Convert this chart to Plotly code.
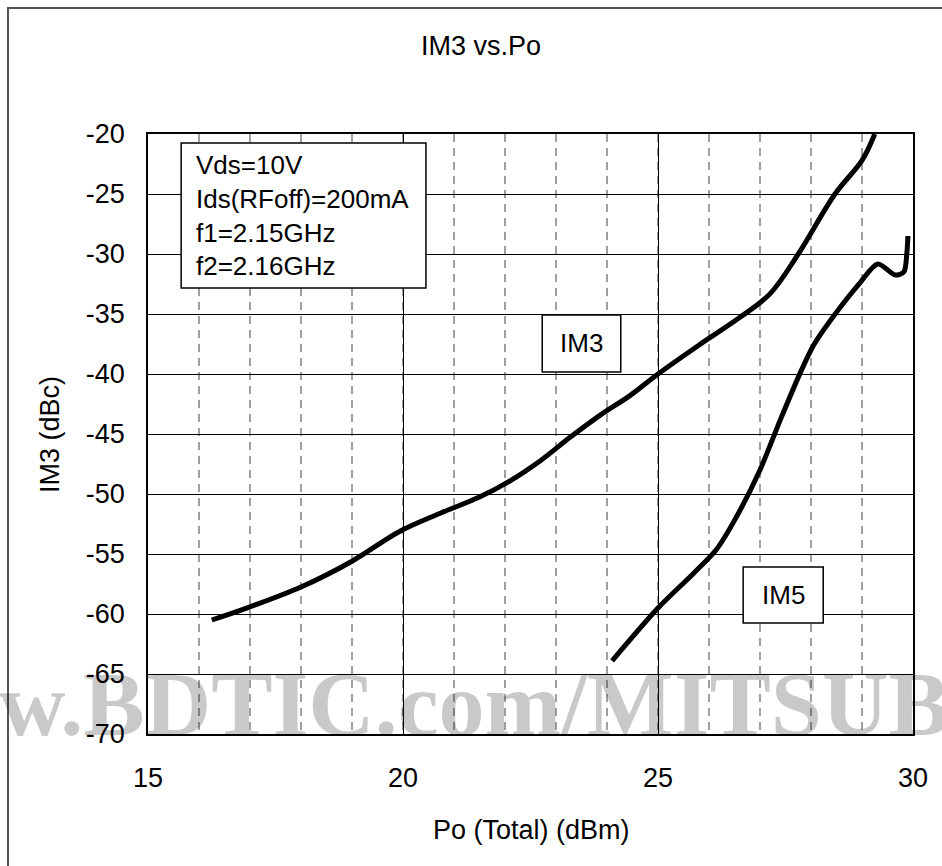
import plotly.graph_objects as go

# ---- data ----
im3_x = [16.25, 17.0, 18.0, 19.0, 19.94, 20.73, 21.5, 22.1, 22.7, 23.27, 23.86, 24.45,
         25.0, 25.8, 26.6, 27.2, 27.75, 28.47, 29.0, 29.25]
im3_y = [-60.5, -59.4, -57.75, -55.6, -53.1, -51.6, -50.25, -48.9, -47.2, -45.3, -43.45, -41.8,
         -40.0, -37.6, -35.3, -33.3, -30.0, -25.0, -22.2, -20.0]

im5_x = [24.1, 25.0, 25.7, 26.15, 26.5, 27.0, 27.4, 27.8, 28.05, 28.43, 28.96, 29.31,
         29.65, 29.82, 29.88, 29.9]
im5_y = [-63.9, -59.5, -56.6, -54.6, -52.2, -48.0, -43.8, -39.8, -37.6, -35.25, -32.4, -30.83,
         -31.75, -31.5, -29.9, -28.5]

x_ticks = [15, 20, 25, 30]
x_ticklabels = ["15", "20", "25", "30"]
y_ticks = [-20, -25, -30, -35, -40, -45, -50, -55, -60, -65, -70]
y_ticklabels = ["-20", "-25", "-30", "-35", "-40", "-45", "-50", "-55", "-60", "-65", "-70"]

title_text = "IM3 vs.Po"
x_title = "Po (Total) (dBm)"
y_title = "IM3 (dBc)"
info_lines = ["Vds=10V", "Ids(RFoff)=200mA", "f1=2.15GHz", "f2=2.16GHz"]
watermark = "w.BDTIC.com/MITSUB"

FONT = "Arial, Liberation Sans, sans-serif"
W, H = 942, 866
ML, MR, MT, MB = 148, 29, 134, 132
PW, PH = W - ML - MR, H - MT - MB


def px(xp):
    return (xp - ML) / PW


def py(yp):
    return (H - MB - yp) / PH


fig = go.Figure()
fig.add_trace(go.Scatter(x=im3_x, y=im3_y, mode="lines",
                         line=dict(color="black", width=5, shape="spline", smoothing=1.0),
                         showlegend=False, hoverinfo="skip"))
fig.add_trace(go.Scatter(x=im5_x, y=im5_y, mode="lines",
                         line=dict(color="black", width=5, shape="spline", smoothing=0.8),
                         showlegend=False, hoverinfo="skip"))

shapes = [
    # outer frame
    dict(type="rect", xref="paper", yref="paper", x0=px(8), x1=px(1000), y0=py(1000), y1=py(8),
         line=dict(color="#555555", width=2), fillcolor="rgba(0,0,0,0)", layer="below"),
    # info box
    dict(type="rect", xref="x", yref="y", x0=15.65, x1=20.45, y0=-32.83, y1=-20.75,
         line=dict(color="black", width=1.5), fillcolor="white", layer="above"),
    # IM3 label box
    dict(type="rect", xref="x", yref="y", x0=22.73, x1=24.27, y0=-39.83, y1=-35.08,
         line=dict(color="black", width=1.5), fillcolor="white", layer="above"),
    # IM5 label box
    dict(type="rect", xref="x", yref="y", x0=26.67, x1=28.24, y0=-60.75, y1=-56.08,
         line=dict(color="black", width=1.5), fillcolor="white", layer="above"),
]

annotations = [
    dict(text="<br>".join(info_lines), x=15.9, y=-26.8, xref="x", yref="y",
         xanchor="left", yanchor="middle", align="left", showarrow=False,
         font=dict(family=FONT, size=26, color="black")),
    dict(text="IM3", x=23.5, y=-37.45, xref="x", yref="y", showarrow=False,
         font=dict(family=FONT, size=26, color="black")),
    dict(text="IM5", x=27.455, y=-58.4, xref="x", yref="y", showarrow=False,
         font=dict(family=FONT, size=26, color="black")),
    dict(text=x_title, x=px(531), y=py(830), xref="paper", yref="paper", showarrow=False,
         xanchor="center", yanchor="middle", font=dict(family=FONT, size=27, color="black")),
    dict(text=y_title, x=px(50), y=py(435), xref="paper", yref="paper", showarrow=False,
         xanchor="center", yanchor="middle", textangle=-90,
         font=dict(family=FONT, size=27, color="black")),
    dict(text=watermark, x=px(-3), y=py(704), xref="paper", yref="paper", showarrow=False,
         xanchor="left", yanchor="middle",
         font=dict(family="Liberation Serif, Times New Roman, serif", size=92,
                   color="rgba(0,0,0,0.21)", weight="bold")),
]

fig.update_layout(
    width=W, height=H,
    margin=dict(l=ML, r=MR, t=MT, b=MB),
    paper_bgcolor="white", plot_bgcolor="white",
    title=dict(text=title_text, x=481 / W, xref="container", xanchor="center",
               y=1 - 46 / H, yref="container", yanchor="middle",
               font=dict(family=FONT, size=27, color="black")),
    shapes=shapes, annotations=annotations,
    showlegend=False,
)
fig.update_xaxes(range=[15, 30], tickvals=x_ticks, ticktext=x_ticklabels,
                 showgrid=True, gridcolor="black", gridwidth=1,
                 minor=dict(dtick=1, tick0=15, showgrid=True, gridcolor="#a0a0a0",
                            griddash="8px,6px", gridwidth=1.5, ticks=""),
                 showline=True, linecolor="black", linewidth=1.5, mirror=True,
                 ticks="", ticklabelstandoff=19, zeroline=False,
                 tickfont=dict(family=FONT, size=27, color="black"))
fig.update_yaxes(range=[-70, -20], tickvals=y_ticks, ticktext=y_ticklabels,
                 showgrid=True, gridcolor="black", gridwidth=1,
                 showline=True, linecolor="black", linewidth=1.5, mirror=True,
                 ticks="", ticklabelstandoff=16, zeroline=False,
                 tickfont=dict(family=FONT, size=27, color="black"))

fig.write_html("out.html")
